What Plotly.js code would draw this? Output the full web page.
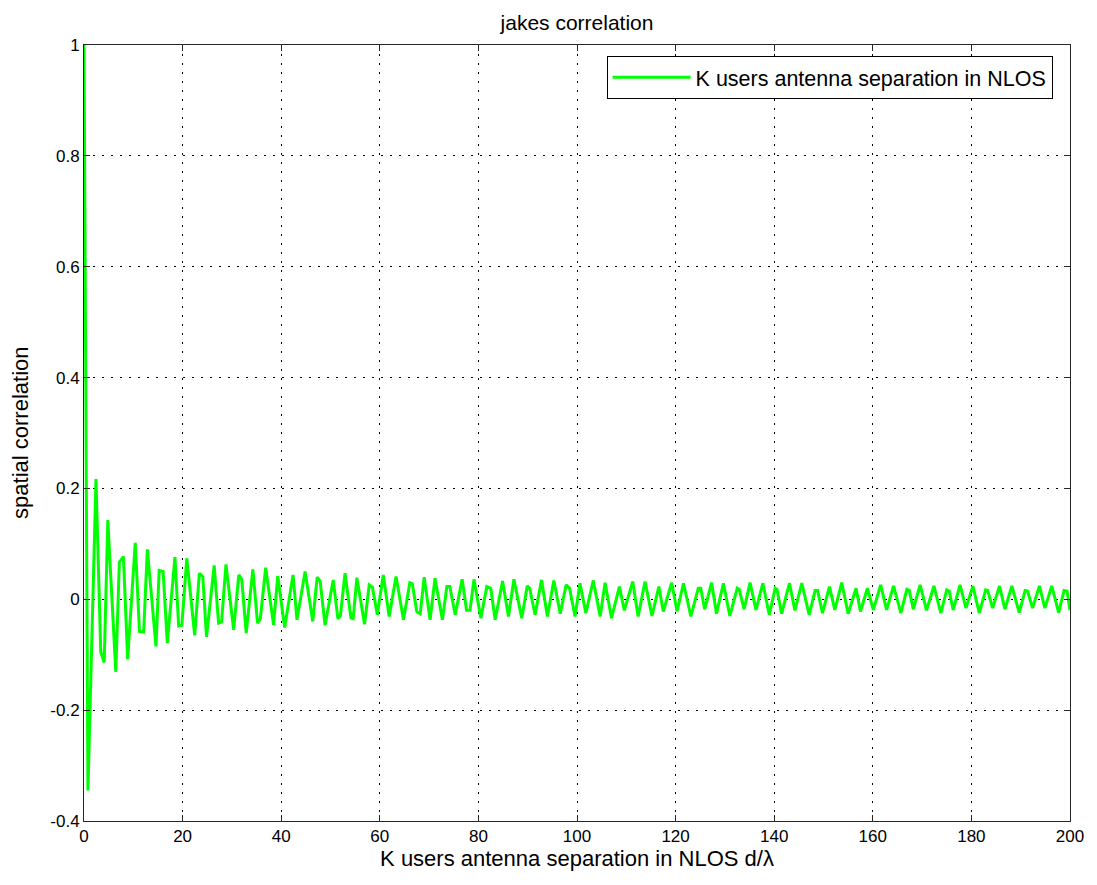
<!DOCTYPE html>
<html>
<head>
<meta charset="utf-8">
<script src="https://cdn.plot.ly/plotly-3.0.1.min.js"></script>
<style>
html,body{margin:0;padding:0;background:#fff;}
#chart{width:1097px;height:885px;}
</style>
</head>
<body>
<div id="chart"></div>
<script>
// separation d/lambda (vertices)
const separation = [
0,0.8,2.43,3.4,4.1,4.83,6.45,7.17,8.0,8.85,10.4,11.25,12.1,12.85,14.6,15.25,16.05,16.9,18.45,19.2,19.85,
20.85,22.45,23.4,24.1,24.85,26.4,27.3,27.9,28.8,30.35,31.4,32.0,32.9,34.25,35.2,35.75,36.85,38.45,39.3,
40.7,42.4,43.2,44.85,46.4,47.3,47.9,48.9,50.55,51.5,52.0,52.95,54.15,54.6,55.35,56.9,57.85,58.5,59.5,
60.7,61.9,63.3,64.8,66.1,66.6,67.5,68.2,69.0,70.2,71.2,72.7,73.6,74.2,75.3,76.7,77.6,78.3,79.1,
80.5,81.7,82.5,83.4,84.9,86.1,87.2,88.8,89.9,90.4,91.5,92.8,94.0,95.3,96.6,97.8,98.5,99.6,
100.6,101.8,103.3,104.7,105.7,107.0,108.6,109.6,111.3,112.4,113.8,115.2,116.6,117.5,119.2,
120.3,121.6,123.1,124.6,125.1,125.9,127.3,128.3,129.7,131.0,132.5,132.9,133.9,135.1,136.3,137.7,139.0,
140.2,140.6,141.5,143.1,144.2,145.6,147.1,148.3,148.8,149.8,151.2,152.3,153.7,155.0,156.6,157.5,158.9,
160.1,161.6,162.8,164.2,165.7,166.9,167.4,168.2,169.6,170.9,172.4,173.8,175.0,175.5,176.3,177.7,178.9,
180.3,181.6,182.9,183.3,184.3,185.7,186.8,188.2,189.7,190.9,191.4,192.4,193.8,194.9,196.3,197.7,198.8,199.4,200
];
// spatial correlation values
const correlation = [
1,-0.345,0.217,-0.095,-0.114,0.143,-0.131,0.067,0.077,-0.108,0.102,-0.058,-0.059,0.090,-0.085,0.052,0.050,-0.079,0.076,-0.048,-0.047,
0.074,-0.065,0.047,0.041,-0.068,0.061,-0.043,-0.041,0.063,-0.055,0.044,0.036,-0.061,0.054,-0.043,-0.036,0.057,-0.046,0.042,
-0.051,0.044,-0.037,0.050,-0.040,0.040,0.033,-0.047,0.035,-0.035,-0.030,0.047,-0.034,-0.035,0.039,-0.045,0.026,0.022,-0.028,
0.044,-0.031,0.041,-0.037,0.030,0.028,-0.022,-0.026,0.040,-0.037,0.038,-0.037,0.023,0.023,-0.028,0.036,-0.020,-0.020,0.036,
-0.034,0.023,0.020,-0.037,0.033,-0.031,0.036,-0.034,0.024,0.020,-0.028,0.035,-0.031,0.034,-0.026,0.026,0.020,-0.031,
0.029,-0.025,0.034,-0.031,0.030,-0.034,0.023,-0.020,0.032,-0.031,0.032,-0.030,0.023,-0.022,0.030,
-0.022,0.029,-0.031,0.020,0.020,-0.018,0.030,-0.026,0.029,-0.030,0.020,0.018,-0.018,0.030,-0.019,0.029,-0.028,
0.020,0.017,-0.026,0.029,-0.020,0.029,-0.028,0.016,0.016,-0.025,0.023,-0.019,0.030,-0.026,0.020,-0.022,0.020,
-0.019,0.026,-0.019,0.024,-0.025,0.018,0.016,-0.018,0.026,-0.020,0.024,-0.025,0.017,0.015,-0.019,0.026,-0.016,
0.024,-0.025,0.017,0.016,-0.016,0.024,-0.018,0.024,-0.024,0.016,0.015,-0.016,0.024,-0.016,0.024,-0.024,0.016,0.015,-0.020
];
const xTickVals = [0,20,40,60,80,100,120,140,160,180,200];
const xTickText = ["0","20","40","60","80","100","120","140","160","180","200"];
const yTickVals = [-0.4,-0.2,0,0.2,0.4,0.6,0.8,1];
const yTickText = ["-0.4","-0.2","0","0.2","0.4","0.6","0.8","1"];
const seriesName = "K users antenna separation in NLOS";
const yLabel = "spatial correlation";

const FONT = "Liberation Sans, Arial, sans-serif";
const axisCommon = {
  showline: true, mirror: 'allticks', linecolor: '#262626', linewidth: 1,
  ticks: 'inside', ticklen: 6, tickcolor: '#262626',
  showgrid: true, gridcolor: '#000000', gridwidth: 1, griddash: '2px,7px',
  zeroline: false,
  tickfont: {family: FONT, size: 17, color: '#000'}
};

const trace = {
  x: separation, y: correlation, type: 'scatter', mode: 'lines',
  name: seriesName,
  line: {color: '#00ff00', width: 3}
};

const layout = {
  width: 1097, height: 885,
  margin: {l: 84, r: 27, t: 45, b: 64},
  paper_bgcolor: '#fff', plot_bgcolor: '#fff',
  title: {text: 'jakes correlation', font: {family: FONT, size: 21, color: '#000'},
          x: 0.5, xref: 'paper', y: 0.974, yanchor: 'middle'},
  xaxis: Object.assign({}, axisCommon, {
    range: [0, 200], tickvals: xTickVals, ticktext: xTickText,
    title: {text: 'K users antenna separation in NLOS d/λ', font: {family: FONT, size: 22, color: '#000'}, standoff: 2}
  }),
  yaxis: Object.assign({}, axisCommon, {
    range: [-0.4, 1], tickvals: yTickVals, ticktext: yTickText
  }),
  annotations: [{
    text: yLabel, xref: 'paper', yref: 'paper', x: -0.065, y: 0.5,
    xanchor: 'center', yanchor: 'middle', textangle: -90, showarrow: false,
    font: {family: FONT, size: 22, color: '#000'}
  }],
  showlegend: true,
  legend: {
    x: 0.530, y: 0.986, xanchor: 'left', yanchor: 'top',
    bgcolor: '#fff', bordercolor: '#000', borderwidth: 1,
    font: {family: FONT, size: 21.5, color: '#000'},
    itemwidth: 78
  }
};

Plotly.newPlot('chart', [trace], layout, {displayModeBar: false, staticPlot: true});
</script>
</body>
</html>
